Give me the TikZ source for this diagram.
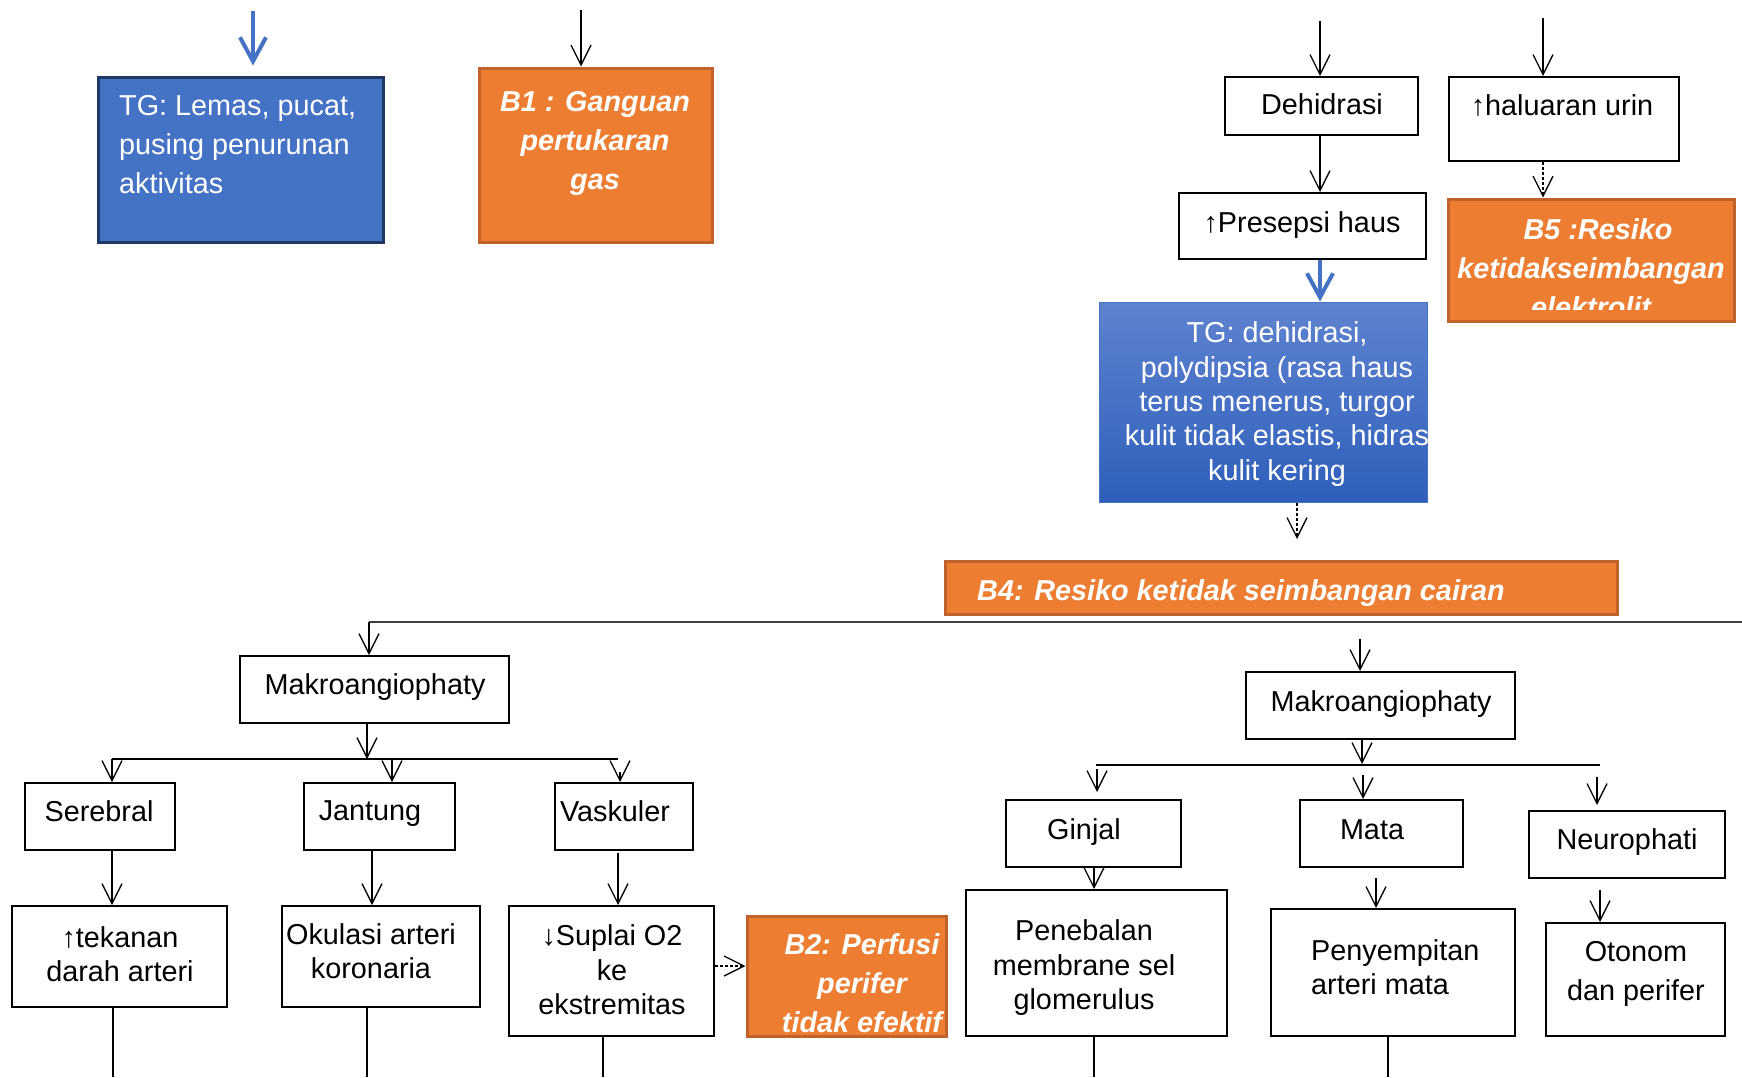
\documentclass[tikz,border=0pt]{standalone}
\usepackage{fontspec}
\setmainfont{Liberation Sans}
\usetikzlibrary{arrows.meta,fit}
\definecolor{tgblue}{HTML}{4472C4}
\definecolor{tgnavy}{HTML}{1F3864}
\definecolor{tgtop}{HTML}{5E83CF}
\definecolor{tgbot}{HTML}{2F5FBB}
\definecolor{orfill}{HTML}{ED7D31}
\definecolor{ordark}{HTML}{C1622A}
\definecolor{arrblue}{HTML}{4472C4}
\definecolor{linegray}{HTML}{404040}
\tikzset{
  bx/.style={draw=black, line width=2pt, fill=white, inner sep=0pt},
  tgb/.style={fill=tgblue, draw=tgnavy, line width=3pt, inner sep=0pt},
  tgg/.style={top color=tgtop, bottom color=tgbot, draw=tgblue, line width=1pt, inner sep=0pt},
  orb/.style={fill=orfill, draw=ordark, line width=3pt, inner sep=0pt},
  tx/.style={font=\fontsize{28.8}{34.5}\selectfont, align=center, inner sep=0pt},
  wtx/.style={font=\fontsize{28.8}{39}\selectfont, text=white, align=center, inner sep=0pt},
  otx/.style={font=\fontsize{28.8}{39}\selectfont\bfseries\itshape, text=white, align=center, inner sep=0pt},
  arr/.style={-{Straight Barb[length=20pt,width=20pt]}, line width=1.3pt},
  barr/.style={-{Straight Barb[length=24pt,width=26pt]}, line width=4pt, draw=arrblue},
  darr/.style={arr, dash pattern=on 3pt off 2pt},
  plain/.style={line width=1.3pt},
}
\begin{document}
\begin{tikzpicture}[x=1pt,y=-1pt]
\useasboundingbox (0,0) rectangle (1742,1077);

% ---------- top left ----------
\node[tgb, fit={(98,77) (383,242)}] (tg1) {};
\node[wtx, align=left, anchor=west] (tg1t) at (119,145) {TG: Lemas, pucat,\\pusing penurunan\\aktivitas};
\node[orb, fit={(479,68) (712,242)}] (b1) {};
\node[otx] (b1t) at (595,143) {B1 : Ganguan\\pertukaran\\gas};

\coordinate (inTG1) at (253,11);
\draw[barr] (inTG1) -- ([yshift=10pt]inTG1 |- tg1.north);
\coordinate (inB1) at (581,10);
\draw[arr] (inB1) -- (inB1 |- b1.north);

% ---------- top right ----------
\node[bx, fit={(1225,77) (1418,135)}] (dehid) {};
\node[tx] (dehidt) at (1322,104) {Dehidrasi};
\node[bx, fit={(1179,193) (1426,259)}] (pres) {};
\node[tx] (prest) at (1302,225) {↑Presepsi haus};
\node[tgg, fit={(1099,302) (1427,502)}] (tg2) {};
\node[wtx, font=\fontsize{28.8}{34.3}\selectfont] (tg2t) at (1277,404) {TG: dehidrasi,\\polydipsia (rasa haus\\terus menerus, turgor\\kulit tidak elastis, hidras\\kulit kering};
\node[bx, fit={(1449,77) (1679,161)}] (hal) {};
\node[tx] (halt) at (1562,105) {↑haluaran urin};
\node[orb, fit={(1448,199) (1734,321)}] (b5) {};
\begin{scope}
  \clip (b5.north west) rectangle ([yshift=13pt]b5.south east);
  \node[otx, anchor=north] (b5t) at (1591,218) {\hspace*{14pt}B5 :Resiko\\ketidakseimbangan\\elektrolit};
\end{scope}
\node[orb, fit={(945,561) (1617,614)}] (b4) {};
\node[otx, anchor=west] (b4t) at (977,593) {B4: Resiko ketidak seimbangan cairan};

\coordinate (inDeh) at (1320,21);
\draw[arr] (inDeh) -- (inDeh |- dehid.north);
\draw[arr] (inDeh |- dehid.south) -- (inDeh |- pres.north);
\draw[barr] (inDeh |- pres.south) -- (inDeh |- tg2.north);
\coordinate (tg2out) at (1297,539);
\draw[darr] (tg2out |- tg2.south) -- (tg2out);
\coordinate (inHal) at (1543,18);
\draw[arr] (inHal) -- (inHal |- hal.north);
\draw[darr] (inHal |- hal.south) -- (inHal |- b5.north);

% ---------- long line ----------
\coordinate (lineR) at (1742,622);
\coordinate (lineL) at (369,622);
\draw[linegray, line width=2.5pt] (lineR) -- (lineL);

% ---------- left tree ----------
\node[bx, fit={(240,656) (509,723)}] (mkl) {};
\node[tx] (mklt) at (375,687) {Makroangiophaty};
\draw[arr] (lineL) -- (lineL |- mkl.north);

\node[bx, fit={(25,783) (175,850)}] (ser) {};
\node[tx] (sert) at (99,811) {Serebral};
\node[bx, fit={(304,783) (455,850)}] (jan) {};
\node[tx] (jant) at (370,814) {Jantung};
\node[bx, fit={(555,783) (693,850)}] (vas) {};
\node[tx] (vast) at (615,811) {Vaskuler};

\coordinate (brL) at (367,759);
\draw[arr] (brL |- mkl.south) -- (brL);
\coordinate (bl1) at (112,759);
\coordinate (bl3) at (618,759);
\draw[plain] (bl1) -- (bl3);
\coordinate (c1) at (112,759);
\coordinate (c2) at (392,759);
\coordinate (c3) at (620,772);
\draw[arr] (c1) -- (c1 |- ser.north);
\draw[arr] (c2) -- (c2 |- jan.north);
\draw[arr] (c3) -- (c3 |- vas.north);

\node[bx, fit={(12,906) (227,1007)}] (tek) {};
\node[tx] (tekt) at (120,954) {↑tekanan\\darah arteri};
\node[bx, fit={(282,906) (480,1007)}] (oku) {};
\node[tx] (okut) at (371,951) {Okulasi arteri\\koronaria};
\node[bx, fit={(509,906) (714,1036)}] (sup) {};
\node[tx] (supt) at (612,970) {↓Suplai O2\\ke\\ekstremitas};
\node[orb, fit={(747,916) (946,1036)}] (b2) {};
\node[otx] (b2t) at (862,983) {B2: Perfusi\\perifer\\tidak efektif};

\coordinate (d1) at (112,0);
\coordinate (d2) at (372,0);
\coordinate (d3) at (618,853);
\draw[arr] (d1 |- ser.south) -- (d1 |- tek.north);
\draw[arr] (d2 |- jan.south) -- (d2 |- oku.north);
\draw[arr] (d3) -- (d3 |- sup.north);

\coordinate (e1) at (113,1077);
\coordinate (e2) at (367,1077);
\coordinate (e3) at (603,1077);
\draw[plain] (e1 |- tek.south) -- (e1);
\draw[plain] (e2 |- oku.south) -- (e2);
\draw[plain] (e3 |- sup.south) -- (e3);

\coordinate (sb) at (0,966);
\draw[darr] (sup.east |- sb) -- (b2.west |- sb);

% ---------- right tree ----------
\node[bx, fit={(1246,672) (1515,739)}] (mkr) {};
\node[tx] (mkrt) at (1381,704) {Makroangiophaty};
\coordinate (inMkr) at (1360,639);
\draw[arr] (inMkr) -- (inMkr |- mkr.north);
\coordinate (brR) at (1362,764);
\draw[arr] (brR |- mkr.south) -- (brR);
\coordinate (br1) at (1096,765);
\coordinate (br3) at (1600,765);
\draw[line width=2pt] (br1) -- (br3);

\node[bx, fit={(1006,800) (1181,867)}] (gin) {};
\node[tx] (gint) at (1084,832) {Ginjal};
\node[bx, fit={(1300,800) (1463,867)}] (mat) {};
\node[tx] (matt) at (1372,830) {Mata};
\node[bx, fit={(1529,811) (1725,878)}] (neu) {};
\node[tx] (neut) at (1627,842) {Neurophati};

\coordinate (r1) at (1097,769);
\coordinate (r2) at (1363,775);
\coordinate (r3) at (1597,777);
\draw[arr] (r1) -- ([yshift=7pt]r1 |- gin.north);
\draw[arr] (r2) -- (r2 |- mat.north);
\draw[arr] (r3) -- ([yshift=5pt]r3 |- neu.north);

\node[bx, fit={(966,890) (1227,1036)}] (pen) {};
\node[tx] (pent) at (1084,968) {Penebalan\\membrane sel\\glomerulus};
\node[bx, fit={(1271,909) (1515,1036)}] (pny) {};
\node[tx, align=left, anchor=west] (pnyt) at (1311,967) {Penyempitan\\arteri mata};
\node[bx, fit={(1546,923) (1725,1036)}] (oto) {};
\node[tx, font=\fontsize{28.8}{39}\selectfont] (otot) at (1636,974) {Otonom\\dan perifer};

\coordinate (s1) at (1094,0);
\coordinate (s2) at (1376,878);
\coordinate (s3) at (1600,890);
\draw[arr] (s1 |- gin.south) -- (s1 |- pen.north);
\draw[arr] (s2) -- (s2 |- pny.north);
\draw[arr] (s3) -- (s3 |- oto.north);

\coordinate (f1) at (1094,1077);
\coordinate (f2) at (1388,1077);
\draw[plain] (f1 |- pen.south) -- (f1);
\draw[plain] (f2 |- pny.south) -- (f2);
\end{tikzpicture}
\end{document}
